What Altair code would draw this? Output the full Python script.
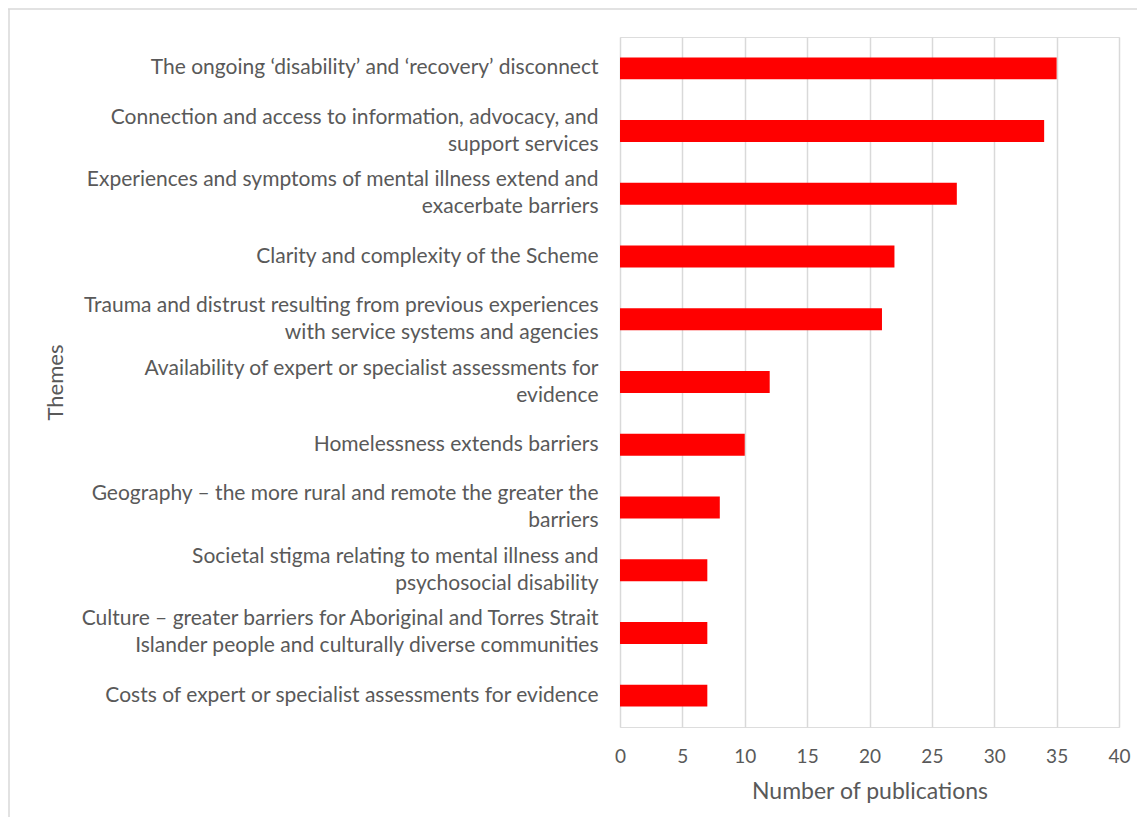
import altair as alt
import pandas as pd

themes = [
    "The ongoing \u2018disability\u2019 and \u2018recovery\u2019 disconnect",
    "Connection and access to information, advocacy, and\nsupport services",
    "Experiences and symptoms of mental illness extend and\nexacerbate barriers",
    "Clarity and complexity of the Scheme",
    "Trauma and distrust resulting from previous experiences\nwith service systems and agencies",
    "Availability of expert or specialist assessments for\nevidence",
    "Homelessness extends barriers",
    "Geography \u2013 the more rural and remote the greater the\nbarriers",
    "Societal stigma relating to mental illness and\npsychosocial disability",
    "Culture \u2013 greater barriers for Aboriginal and Torres Strait\nIslander people and culturally diverse communities",
    "Costs of expert or specialist assessments for evidence",
]
publications = [35, 34, 27, 22, 21, 12, 10, 8, 7, 7, 7]
x_ticks = [0, 5, 10, 15, 20, 25, 30, 35, 40]

df = pd.DataFrame({"theme": themes, "n": publications})

FONT = "Lato"
TXT = "#595959"
GRID = "#d9d9d9"

bars = alt.Chart(df).mark_bar(color="#ff0000").encode(
    x=alt.X(
        "n:Q",
        scale=alt.Scale(domain=[0, 40], nice=False),
        axis=alt.Axis(
            values=x_ticks,
            title="Number of publications",
            grid=True,
            gridColor=GRID,
            gridWidth=1.5,
            domain=False,
            ticks=False,
            labelFontSize=19,
            labelColor=TXT,
            labelFont=FONT,
            labelFlush=False,
            labelPadding=20,
            titleFont=FONT,
            titleFontSize=23,
            titleFontWeight="normal",
            titleColor=TXT,
            titlePadding=14,
        ),
    ),
    y=alt.Y(
        "theme:N",
        sort=themes,
        scale=alt.Scale(paddingInner=0.65, paddingOuter=0.325),
        axis=alt.Axis(
            title="Themes",
            grid=False,
            domain=False,
            ticks=False,
            labelFont=FONT,
            labelFontSize=21,
            labelColor=TXT,
            labelPadding=22,
            labelLimit=0,
            labelLineHeight=27,
            labelExpr="split(datum.label, '\\n')",
            labelOffset={
                "condition": {"test": "indexof(datum.label, '\\n') >= 0", "value": -13.5},
                "value": 0,
            },
            titleFont=FONT,
            titleFontSize=22,
            titleFontWeight="normal",
            titleColor=TXT,
            titleX=-565,
            titleY=345,
            titleAngle=270,
            titleBaseline="middle",
            titleAlign="center",
        ),
    ),
)

frame = pd.DataFrame({"k": [0]})
left_border = alt.Chart(frame).mark_rule(color=GRID, strokeWidth=1.5).encode(
    x=alt.value(-611), y=alt.value(-28), y2=alt.value(790)
)
top_border = alt.Chart(frame).mark_rule(color=GRID, strokeWidth=1.5).encode(
    x=alt.value(-612), x2=alt.value(520), y=alt.value(-28)
)

chart = (
    alt.layer(left_border, top_border, bars)
    .properties(
        width=499,
        height=690,
        padding={"left": 612, "top": 29, "right": 18, "bottom": 90},
        autosize=alt.AutoSizeParams(type="none"),
    )
    .configure_view(stroke=None)
    .configure(background="white")
)

chart.save("out.html", embed_options={"renderer": "svg", "actions": False})
